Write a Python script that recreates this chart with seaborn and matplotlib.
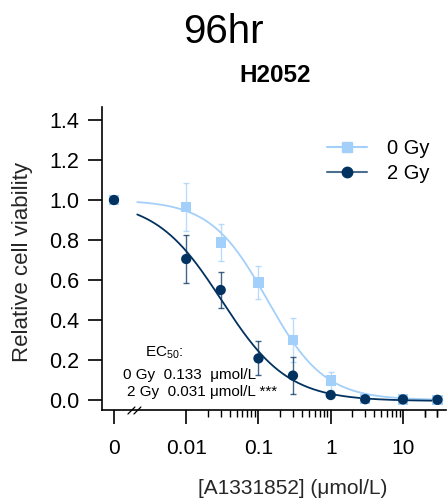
import numpy as np
import pandas as pd
import matplotlib
matplotlib.use("Agg")
import matplotlib.pyplot as plt
import seaborn as sns
from matplotlib.ticker import FixedLocator, NullFormatter
from matplotlib.lines import Line2D

# ---------------- data ----------------
conc = [0, 0.01, 0.03, 0.1, 0.3, 1, 3, 10, 30]
via_0gy = [1.00, 0.965, 0.787, 0.587, 0.300, 0.097, 0.006, 0.003, 0.000]
err_0gy = [0.0, 0.118, 0.092, 0.083, 0.110, 0.045, 0.010, 0.006, 0.006]
via_2gy = [1.00, 0.705, 0.550, 0.208, 0.122, 0.025, 0.004, 0.003, 0.001]
err_2gy = [0.0, 0.120, 0.090, 0.085, 0.092, 0.012, 0.006, 0.005, 0.005]
doses = ["0 Gy", "2 Gy"]
ec50 = [0.133, 0.031]
hill = [1.1, 0.95]
top_val = [1.0, 1.0]
bottom_val = [0.0, -0.005]
ec50_lines = ["0 Gy  0.133  μmol/L", "2 Gy  0.031 μmol/L ***"]
zero_pos = 0.001  # where the "0" concentration is drawn on the log axis
xticks = [0.001, 0.01, 0.1, 1, 10]
xticklabels = ["0", "0.01", "0.1", "1", "10"]
yticks = [0.0, 0.2, 0.4, 0.6, 0.8, 1.0, 1.2, 1.4]
colors = {"0 Gy": "#A3D0FA", "2 Gy": "#02325F"}
markers = {"0 Gy": "s", "2 Gy": "o"}

# ---------------- tables ----------------
pts = pd.DataFrame({
    "conc": conc * 2,
    "via": via_0gy + via_2gy,
    "err": err_0gy + err_2gy,
    "dose": [doses[0]] * len(conc) + [doses[1]] * len(conc),
})
pts["xpos"] = pts["conc"].where(pts["conc"] > 0, zero_pos)

grid = np.logspace(np.log10(0.0021), np.log10(35), 300)
curve_rows = []
for d, e, h, t, b in zip(doses, ec50, hill, top_val, bottom_val):
    y = b + (t - b) / (1 + (grid / e) ** h)
    curve_rows.append(pd.DataFrame({"conc": grid, "via": y, "dose": d}))
curves = pd.concat(curve_rows, ignore_index=True)

# ---------------- style ----------------
sns.set_theme(style="ticks")
plt.rcParams["font.family"] = ["Liberation Sans", "DejaVu Sans"]
plt.rcParams["mathtext.fontset"] = "custom"
plt.rcParams["mathtext.rm"] = "Liberation Sans"
plt.rcParams["axes.edgecolor"] = "black"
plt.rcParams["xtick.color"] = "black"
plt.rcParams["ytick.color"] = "black"
plt.rcParams["text.color"] = "black"

fig = plt.figure(figsize=(4.47, 5.01), dpi=100)
ax = fig.add_axes([0.228, 0.1816, 0.998 - 0.228, 0.7864 - 0.1816])

# curves
sns.lineplot(data=curves, x="conc", y="via", hue="dose", palette=colors,
             hue_order=doses, linewidth=1.3, legend=False, ax=ax, zorder=2,
             estimator=None, sort=True)

# error bars
for d in doses:
    sub = pts[pts["dose"] == d]
    ax.errorbar(sub["xpos"], sub["via"], yerr=sub["err"], fmt="none",
                ecolor=colors[d], alpha=0.75, elinewidth=1.0, capsize=2.2,
                capthick=1.0, zorder=2.5)

# points
sns.scatterplot(data=pts, x="xpos", y="via", hue="dose", style="dose",
                palette=colors, markers=markers, hue_order=doses,
                style_order=doses, s=55, edgecolor="none", legend=False,
                ax=ax, zorder=3)

ax.set_xscale("log")
ax.set_xlim(10 ** -3.167, 10 ** 1.597)
ax.set_ylim(-0.05, 1.465)
ax.xaxis.set_major_locator(FixedLocator(xticks))
ax.set_xticklabels(xticklabels)
minor = [k * 10.0 ** p for p in range(-2, 2) for k in range(2, 10)] + [20, 30]
ax.xaxis.set_minor_locator(FixedLocator(minor))
ax.xaxis.set_minor_formatter(NullFormatter())
ax.set_yticks(yticks)
ax.set_yticklabels([f"{v:.1f}" for v in yticks])

sns.despine(ax=ax)
for s in ["left", "bottom"]:
    ax.spines[s].set_linewidth(1.2)

ax.tick_params(axis="y", which="major", length=10, width=1.2, pad=6.5, labelsize=15.5)
ax.tick_params(axis="x", which="major", length=10, width=1.2, pad=11, labelsize=15)
ax.tick_params(axis="x", which="minor", length=5, width=1.0)

ax.set_xlabel("[A1331852] (μmol/L)", fontsize=15)
ax.set_ylabel("Relative cell viability", fontsize=16)
ax.xaxis.set_label_coords(0.555, -0.228)
ax.yaxis.set_label_coords(-0.200, 0.49)

# axis break marks
for off in (0.0, 0.0174):
    ax.plot([0.0756 + off, 0.0959 + off], [-0.0132, 0.0099], transform=ax.transAxes,
            color="black", lw=0.9, clip_on=False)

# legend
handles = [Line2D([], [], color=colors[d], lw=1.5, marker=markers[d],
                  markersize=7.5, markerfacecolor=colors[d], markeredgecolor=colors[d])
           for d in doses]
handles[1].set_color((0.01, 0.2, 0.37, 0.7))
handles[1].set_markerfacecolor(colors["2 Gy"])
handles[1].set_markeredgecolor(colors["2 Gy"])
ax.legend(handles, doses, loc="upper left", bbox_to_anchor=(0.654, 0.895),
          frameon=False, borderpad=0, borderaxespad=0, handlelength=2.0,
          handletextpad=1.0, labelspacing=0.3, fontsize=14.5)

# EC50 annotation
ax.text(0.0027, 0.235, r"EC$_{\mathrm{50}}$:", fontsize=11, ha="left", va="center")
ax.text(0.00133, 0.125, ec50_lines[0], fontsize=11, ha="left", va="center")
ax.text(0.0015, 0.040, ec50_lines[1], fontsize=11, ha="left", va="center")

# titles
fig.text(0.5, 1 - 43 / 501, "96hr", fontsize=29, ha="center", va="baseline")
fig.text(275 / 447, 1 - 82 / 501, "H2052", fontsize=17.5, fontweight="bold",
         ha="center", va="baseline")

fig.savefig("out.png", dpi=100)
